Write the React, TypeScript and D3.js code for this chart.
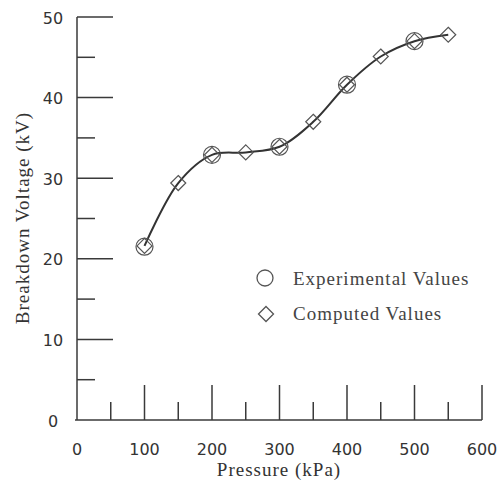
import React from "react";
import * as d3 from "d3";

// computed values (curve + diamonds)
const computedPressure = [100, 150, 200, 250, 300, 350, 400, 450, 500, 550];
const computedVoltage = [21.6, 29.4, 32.9, 33.2, 33.9, 37.0, 41.6, 45.1, 47.0, 47.8];

// experimental values (circles)
const expPressure = [100, 200, 300, 400, 500];
const expVoltage = [21.5, 32.9, 33.9, 41.6, 47.0];

const xMajor = [100, 200, 300, 400, 500, 600];
const xMinor = [50, 150, 250, 350, 450, 550];
const xLabels = [0, 100, 200, 300, 400, 500, 600];
const yMajor = [10, 20, 30, 40, 50];
const yMinor = [5, 15, 25, 35, 45];
const yLabels = [0, 10, 20, 30, 40, 50];

const W = 498;
const H = 483;
const ink = "#3a3a3a";

export default function App() {
  const x = d3.scaleLinear().domain([0, 600]).range([77, 482]);
  const y = d3.scaleLinear().domain([0, 50]).range([420, 17]);

  const pts = computedPressure.map((p, i) => [p, computedVoltage[i]] as [number, number]);
  const line = d3
    .line<[number, number]>()
    .x((d) => x(d[0]))
    .y((d) => y(d[1]))
    .curve(d3.curveCatmullRom.alpha(0.5));

  const diamond = (cx: number, cy: number, r: number) =>
    `M${cx},${cy - r}L${cx + r},${cy}L${cx},${cy + r}L${cx - r},${cy}Z`;

  const sans = "'DejaVu Sans', sans-serif";
  const serif = "'Liberation Serif', 'Times New Roman', serif";

  return (
    <svg width={W} height={H} style={{ position: "absolute", left: 0, top: 0, background: "#fff" }}>
      {/* axes */}
      <g stroke={ink} strokeWidth={1.5} fill="none">
        <line x1={x(0)} x2={x(0)} y1={y(0)} y2={y(50)} />
        <line x1={x(0) - 2} x2={x(600)} y1={y(0)} y2={y(0)} />
        {yMajor.map((v) => (
          <line key={"ym" + v} x1={x(0)} x2={x(0) + 36} y1={y(v)} y2={y(v)} />
        ))}
        {yMinor.map((v) => (
          <line key={"yn" + v} x1={x(0)} x2={x(0) + 18} y1={y(v)} y2={y(v)} />
        ))}
        {xMajor.map((v) => (
          <line key={"xm" + v} x1={x(v)} x2={x(v)} y1={y(0)} y2={y(0) - 35} />
        ))}
        {xMinor.map((v) => (
          <line key={"xn" + v} x1={x(v)} x2={x(v)} y1={y(0)} y2={y(0) - 18} />
        ))}
      </g>

      {/* tick labels */}
      <g style={{ fontFamily: sans }} fontSize={16} fill="#333" textAnchor="middle">
        {yLabels.map((v) => (
          <text key={"yl" + v} x={53} y={y(v) + 1} dominantBaseline="central">
            {v}
          </text>
        ))}
        {xLabels.map((v) => (
          <text key={"xl" + v} x={x(v)} y={455}>
            {v}
          </text>
        ))}
      </g>

      {/* axis titles */}
      <g style={{ fontFamily: serif }} fontSize={19} letterSpacing={1} fill="#333" textAnchor="middle">
        <text x={279} y={476}>Pressure (kPa)</text>
        <text transform="translate(29,218) rotate(-90)">Breakdown Voltage (kV)</text>
      </g>

      {/* curve */}
      <path d={line(pts) ?? ""} fill="none" stroke="#333" strokeWidth={2} />

      {/* computed diamonds + experimental circles */}
      <g fill="none" stroke="#555" strokeWidth={1.2}>
        {computedPressure.map((p, i) => (
          <path key={"d" + p} d={diamond(x(p), y(computedVoltage[i]), 7.5)} />
        ))}
        {expPressure.map((p, i) => (
          <circle key={"c" + p} cx={x(p)} cy={y(expVoltage[i])} r={8.5} />
        ))}
      </g>

      {/* legend */}
      <g fill="none" stroke="#555" strokeWidth={1.3}>
        <circle cx={265} cy={278} r={8} />
        <path d={diamond(266, 314, 7.5)} />
      </g>
      <g style={{ fontFamily: serif }} fontSize={19} letterSpacing={1} fill="#444">
        <text x={293} y={285}>Experimental Values</text>
        <text x={293} y={320}>Computed Values</text>
      </g>
    </svg>
  );
}
